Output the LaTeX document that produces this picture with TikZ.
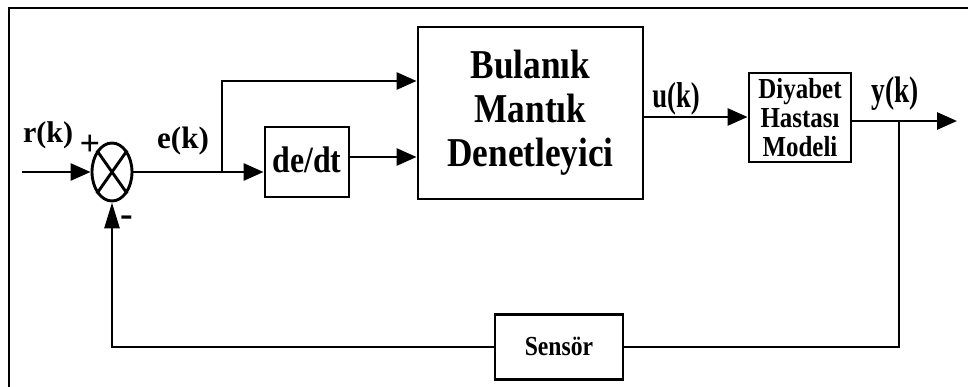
\documentclass[tikz,border=0pt]{standalone}
\usepackage{fontspec}
\setmainfont{Liberation Serif}
\newfontfamily\condf[FakeStretch=0.86]{Liberation Serif}
\newfontfamily\narrf[FakeStretch=0.74]{Liberation Serif}
\usetikzlibrary{arrows.meta,shapes.geometric}
\begin{document}
\begin{tikzpicture}[x=1pt,y=-1pt,line width=2.9pt,
  blk/.style={draw,rectangle,inner sep=0pt,align=center},
  arr/.style={-{Triangle[length=20pt,width=17pt]}},
  arrup/.style={-{Triangle[length=26pt,width=15pt]}},
  lbl/.style={inner sep=0pt}]
\useasboundingbox (0,0) rectangle (968,387);
% frame
\draw (9,390) -- (9,8) -- (970,8);
% summing junction
\node[draw,ellipse,minimum width=40pt,minimum height=58pt,inner sep=0pt] (S) at (112,172) {};
\draw (S.north east) -- (S.south west) (S.north west) -- (S.south east);
% blocks
\node[blk,minimum width=84pt,minimum height=70pt,font={\condf\bfseries\fontsize{37}{40}\selectfont}] (D) at (307,162) {\raisebox{4pt}{de/dt}};
\node[blk,minimum width=225pt,minimum height=172pt,font={\condf\bfseries\fontsize{41}{44}\selectfont}] (F) at (530.5,113) {Bulanık\\Mantık\\Denetleyici};
\node[blk,minimum width=102pt,minimum height=89pt,font={\condf\bfseries\fontsize{29}{29}\selectfont}] (P) at (800,117.5) {Diyabet\\Hastası\\Modeli};
\node[blk,minimum width=128pt,minimum height=65pt,font={\condf\bfseries\fontsize{27.5}{29}\selectfont}] (Sen) at (559,347) {\raisebox{2pt}{Sensör}};
% coordinates
\coordinate (in) at (22,172);
\coordinate (br) at (222,172);
\coordinate (top) at (222,81);
\coordinate (dq) at (0,157);
\coordinate (uq) at (0,117);
\coordinate (out) at (957,121);
\coordinate (tap) at (899,121);
% connectors
\draw[arr] (in) -- (S);
\draw[arr] (S.east) -- (S.east -| D.west);
\draw[arr] (br) -- (top) -- (top -| F.west);
\draw[arr] (D.east |- dq) -- (F.west |- dq);
\draw[arr] (F.east |- uq) -- (P.west |- uq);
\draw[arr] (P.east |- out) -- (out);
\draw (tap) -- (tap |- Sen.east) -- (Sen.east);
\draw[arrup] (Sen.west) -| (S.south);
% labels
\node[lbl,font={\bfseries\fontsize{30}{32}\selectfont}] (r) at (48,135) {r(k)};
\node[lbl,font={\bfseries\fontsize{31}{33}\selectfont}] (e) at (183,141) {e(k)};
\node[lbl,font={\narrf\bfseries\fontsize{36}{38}\selectfont}] (u) at (676,99) {u(k)};
\node[lbl,font={\narrf\bfseries\fontsize{37}{39}\selectfont}] (y) at (895,94) {y(k)};
\node[lbl,font={\bfseries\fontsize{36}{38}\selectfont}] (plus) at (90,145) {+};
\node[lbl,font={\bfseries\fontsize{38}{40}\selectfont}] (minus) at (127,221) {-};
\end{tikzpicture}
\end{document}
